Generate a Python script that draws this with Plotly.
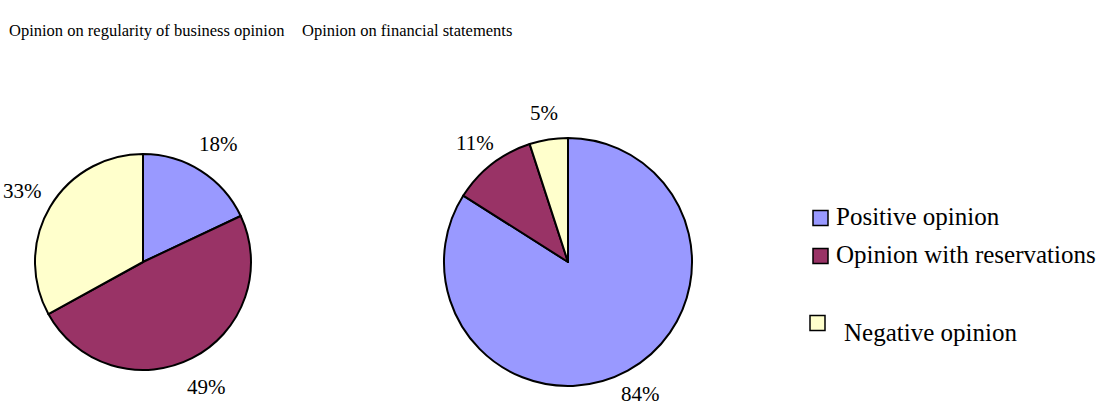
import math
import plotly.graph_objects as go

categories = ["Positive opinion", "Opinion with reservations", "Negative opinion"]
business_values = [18, 49, 33]
financial_values = [84, 11, 5]
titles = ["Opinion on regularity of business opinion", "Opinion on financial statements"]
colors = ["#9999FF", "#993366", "#FFFFCC"]

W, H = 1104, 406
FONT = "Liberation Serif, Times New Roman, serif"

def px(x):
    return x / W

def py(y):
    return 1 - y / H

fig = go.Figure()
annotations = []

def add_pie(values, cx, cy, r, label_gap):
    fig.add_trace(go.Pie(
        labels=categories, values=values, sort=False, direction="clockwise",
        rotation=0, marker=dict(colors=colors, line=dict(color="black", width=2)),
        textinfo="none",
        showlegend=False, hoverinfo="label+percent",
        domain=dict(x=[px(cx - r), px(cx + r)], y=[py(cy + r), py(cy - r)]),
    ))
    # percentage labels placed outside each slice, derived from the values
    total = sum(values)
    cum = 0
    for v in values:
        mid = (cum + v / 2) / total * 2 * math.pi
        cum += v
        d = r + label_gap
        lx = cx + d * math.sin(mid)
        ly = cy - d * math.cos(mid)
        annotations.append(dict(text=f"{round(v / total * 100)}%", x=px(lx), y=py(ly),
                                xref="paper", yref="paper", xanchor="center",
                                yanchor="middle", showarrow=False,
                                font=dict(family=FONT, size=21, color="black")))

add_pie(business_values, 143, 262, 108, 32)
add_pie(financial_values, 568, 262, 124, 27)

for i, (t, x0) in enumerate(zip(titles, [7, 300])):
    annotations.append(dict(text=t, x=px(x0), y=py(30), xref="paper", yref="paper",
                            xanchor="left", yanchor="middle", showarrow=False,
                            font=dict(family=FONT, size=16.5, color="black")))

# custom legend
leg_sq = [(813, 218), (813, 256), (810, 323)]
leg_tx = [(834, 217), (834, 255), (842, 332)]
shapes = []
for i, cat in enumerate(categories):
    sx, sy = leg_sq[i]
    shapes.append(dict(type="rect", xref="paper", yref="paper",
                       x0=px(sx), x1=px(sx + 15), y0=py(sy + 7.5), y1=py(sy - 7.5),
                       fillcolor=colors[i], line=dict(color="black", width=1.5)))
    tx, ty = leg_tx[i]
    annotations.append(dict(text=cat, x=px(tx), y=py(ty), xref="paper", yref="paper",
                            xanchor="left", yanchor="middle", showarrow=False,
                            font=dict(family=FONT, size=25, color="black")))

fig.update_layout(
    width=W, height=H, margin=dict(l=0, r=0, t=0, b=0),
    paper_bgcolor="white", plot_bgcolor="white",
    annotations=annotations, shapes=shapes,
)

fig.write_html("out.html")
